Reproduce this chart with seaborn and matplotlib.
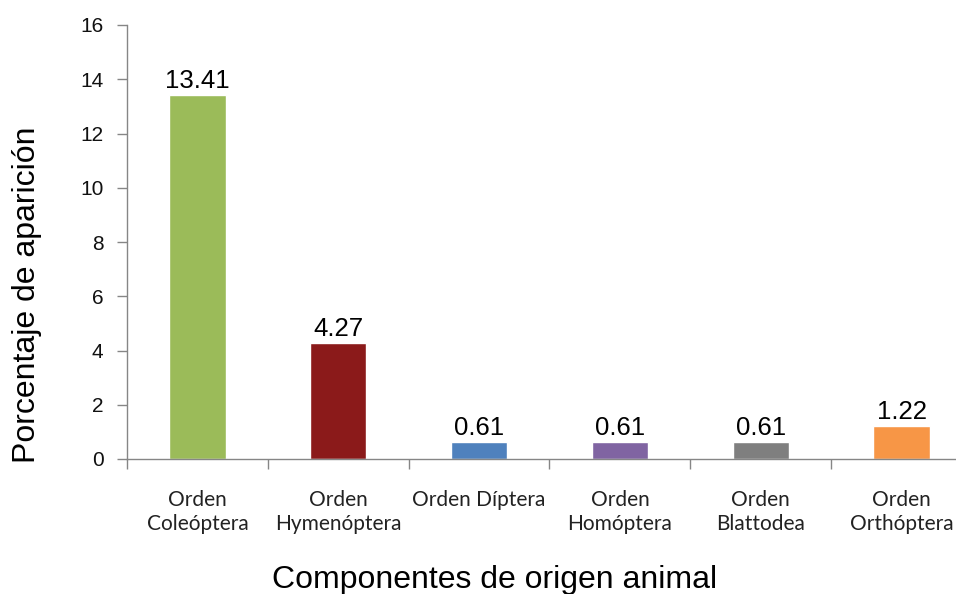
import matplotlib
matplotlib.use("Agg")
import matplotlib.pyplot as plt
import seaborn as sns
import pandas as pd
import numpy as np

categories = ["Orden\nColeóptera", "Orden\nHymenóptera", "Orden Díptera",
              "Orden\nHomóptera", "Orden\nBlattodea", "Orden\nOrthóptera"]
values = [13.41, 4.27, 0.61, 0.61, 0.61, 1.22]
value_labels = ["13.41", "4.27", "0.61", "0.61", "0.61", "1.22"]
colors = ["#9BBB59", "#8B1A1A", "#4F81BD", "#8064A2", "#7F7F7F", "#F79646"]
yticks = [0, 2, 4, 6, 8, 10, 12, 14, 16]

sns.set_theme(style="white")
plt.rcParams['font.family'] = ['Liberation Sans', 'DejaVu Sans']

df = pd.DataFrame({"cat": categories, "val": values})

fig = plt.figure(figsize=(9.56, 5.94), dpi=100)
ax = fig.add_axes([127/956, 1 - 459/594, (972-127)/956, (459-25)/594])

sns.barplot(data=df, x="cat", y="val", hue="cat", palette=colors, legend=False,
            width=0.4, saturation=1, ax=ax)

for i, cont in enumerate(ax.containers):
    ax.bar_label(cont, labels=[value_labels[i]], padding=1.5, fontsize=18.5, color="#000000")

ax.set_ylim(0, 16)
ax.set_xlim(-0.5, len(categories) - 0.5)
ax.set_yticks(yticks)
ax.set_yticklabels([str(t) for t in yticks])

ax.set_xticks(range(len(categories)))
ax.set_xticklabels(categories, fontsize=15, family=['Lato', 'DejaVu Sans'],
                   linespacing=1.3, color="#222222")
ax.tick_params(axis="x", which="major", length=0, pad=22)
ax.set_xticks(np.arange(-0.5, len(categories), 1), minor=True)
ax.tick_params(axis="x", which="minor", length=7, width=1, color="#868686", direction="out", bottom=True)
ax.tick_params(axis="y", length=7, width=1, color="#868686", direction="out", left=True, pad=10,
               labelsize=15, labelcolor="#111111")

for s in ["top", "right"]:
    ax.spines[s].set_visible(False)
for s in ["left", "bottom"]:
    ax.spines[s].set_color("#868686")
    ax.spines[s].set_linewidth(1)

ax.set_xlabel("")
ax.set_ylabel("")
fig.text(27/956, 1 - 295/594, "Porcentaje de aparición", rotation=90,
         ha="center", va="center", fontsize=23, color="#000000")
fig.text(495/956, 1 - 580/594, "Componentes de origen animal",
         ha="center", va="center", fontsize=23, color="#000000")

fig.savefig("out.png", dpi=100, facecolor="white")
